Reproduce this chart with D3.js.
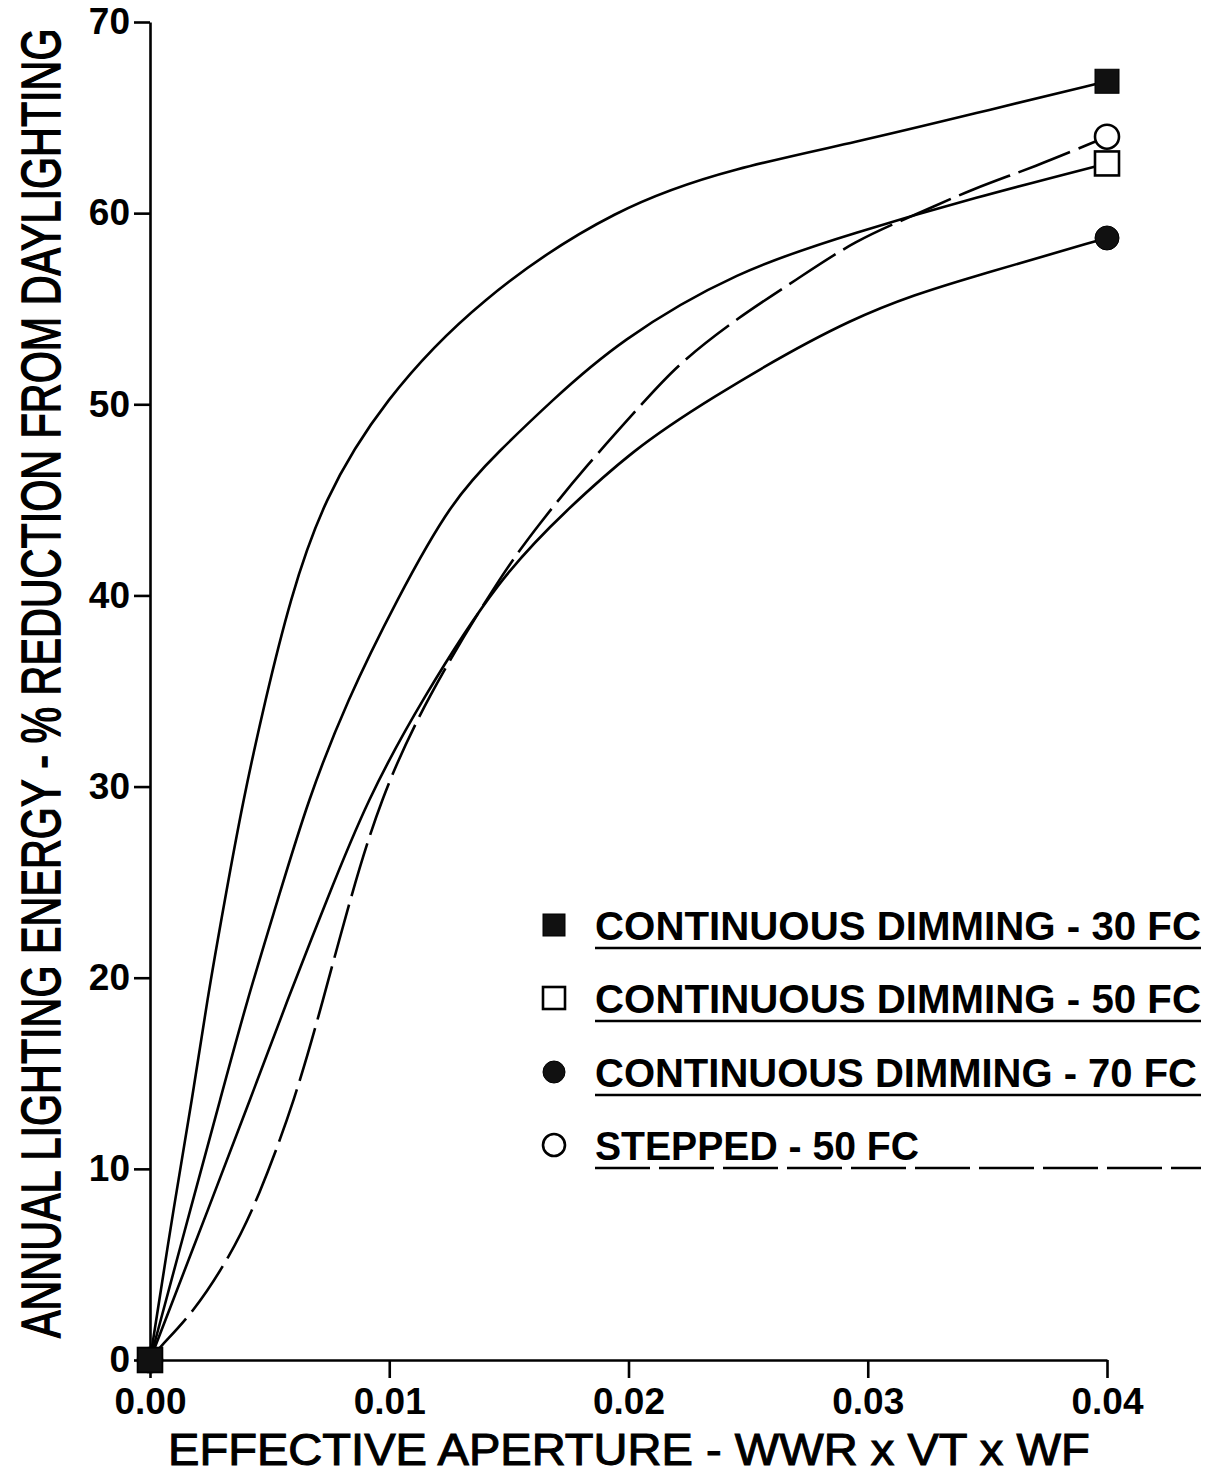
<!DOCTYPE html>
<html>
<head>
<meta charset="utf-8">
<script src="https://cdn.jsdelivr.net/npm/d3@7"></script>
<style>
  body { margin: 0; background: #fff; }
  svg { display: block; }
</style>
</head>
<body>
<div class="graph"></div>
<script>
// values
var xTicks = [0, 0.01, 0.02, 0.03, 0.04];
var yTicks = [0, 10, 20, 30, 40, 50, 60, 70];

var x30 = [0, 0.00104, 0.00176, 0.00238, 0.00313, 0.00389, 0.00481, 0.00585, 0.00723, 0.00974, 0.01371, 0.01956, 0.02453, 0.0295, 0.03443, 0.04];
var y30 = [0, 8.4, 13.6, 18.8, 24.1, 29.3, 34.5, 39.8, 45.0, 50.2, 55.5, 60.4, 62.4, 63.7, 65.2, 66.9];

var x50 = [0, 0.0018, 0.00293, 0.00405, 0.00535, 0.0066, 0.00823, 0.01032, 0.01262, 0.01463, 0.01672, 0.01956, 0.02453, 0.0295, 0.03443, 0.04];
var y50 = [0, 8.4, 13.6, 18.8, 24.1, 29.3, 34.5, 39.8, 45.0, 47.6, 50.1, 53.3, 57.0, 59.0, 60.8, 62.6];

var x70 = [0, 0.00259, 0.00418, 0.00573, 0.0074, 0.00907, 0.01133, 0.01463, 0.01743, 0.02019, 0.02299, 0.0295, 0.03443, 0.04];
var y70 = [0, 8.4, 13.6, 18.8, 24.1, 29.3, 34.5, 41.0, 44.5, 47.6, 50.0, 54.8, 56.7, 58.7];

var xStep = [0, 0.00042, 0.00176, 0.00334, 0.00451, 0.00606, 0.00723, 0.00836, 0.00961, 0.01149, 0.01463, 0.0163, 0.01818, 0.02069, 0.02207, 0.02453, 0.027, 0.0295, 0.03197, 0.03443, 0.03694, 0.04];
var yStep = [0, 0.7, 2.4, 5.4, 8.4, 13.6, 18.8, 24.1, 29.3, 34.5, 41.0, 43.8, 46.7, 50.2, 52.1, 54.5, 56.5, 58.6, 59.9, 61.3, 62.4, 64.0];

var legendLabels = ["CONTINUOUS DIMMING - 30 FC", "CONTINUOUS DIMMING - 50 FC", "CONTINUOUS DIMMING - 70 FC", "STEPPED - 50 FC"];

var w = 1211;
var h = 1475;

function zip(xs, ys) {
  return xs.map(function(d, i) { return [d, ys[i]]; });
}

// drawn bottom to top so the filled square sits on the origin
var series = [
  {name: legendLabels[3], pts: zip(xStep, yStep), dash: "55,9", marker: "circle", filled: false},
  {name: legendLabels[2], pts: zip(x70, y70), dash: null, marker: "circle", filled: true},
  {name: legendLabels[1], pts: zip(x50, y50), dash: null, marker: "square", filled: false},
  {name: legendLabels[0], pts: zip(x30, y30), dash: null, marker: "square", filled: true}
];

var svg = d3.select("div.graph")
  .append("svg")
  .attr("width", w)
  .attr("height", h);

svg.append("rect").attr("width", w).attr("height", h).attr("fill", "#fff");

var x = d3.scaleLinear().domain([0, 0.04]).range([150, 1107]);
var y = d3.scaleLinear().domain([0, 70]).range([1360, 22]);

var font = "'Liberation Sans', Arial, sans-serif";

// axes
var yAxis = svg.append("g")
  .attr("transform", "translate(150,0)")
  .call(d3.axisLeft(y).tickValues(yTicks).tickSize(16).tickSizeOuter(0).tickPadding(4).tickFormat(d3.format("d")));

var xAxis = svg.append("g")
  .attr("transform", "translate(0,1360)")
  .call(d3.axisBottom(x).tickValues(xTicks).tickSize(18).tickSizeOuter(0).tickPadding(10).tickFormat(d3.format(".2f")));

[yAxis, xAxis].forEach(function(a) {
  a.select(".domain").attr("stroke", "#000").attr("stroke-width", 2.6);
  a.selectAll(".tick line").attr("stroke", "#000").attr("stroke-width", 2.6);
  a.selectAll(".tick text")
    .attr("fill", "#000")
    .style("font-family", font)
    .style("font-weight", "bold")
    .style("font-size", "37px");
});

// curves
var line = d3.line()
  .x(function(d) { return x(d[0]); })
  .y(function(d) { return y(d[1]); })
  .curve(d3.curveBasis);

svg.selectAll("path.curve")
  .data(series)
  .enter()
  .append("path")
  .attr("class", "curve")
  .attr("d", function(d) { return line(d.pts); })
  .attr("fill", "none")
  .attr("stroke", "#000")
  .attr("stroke-width", 2.6)
  .attr("stroke-dasharray", function(d) { return d.dash; });

function drawMarker(g, s, cx, cy, size) {
  if (s.marker == "square") {
    g.append("rect")
      .attr("x", cx - size / 2)
      .attr("y", cy - size / 2)
      .attr("width", size)
      .attr("height", size)
      .attr("fill", s.filled ? "#111" : "#fff")
      .attr("stroke", "#000")
      .attr("stroke-width", s.filled ? 1 : 2.6);
  } else {
    g.append("circle")
      .attr("cx", cx)
      .attr("cy", cy)
      .attr("r", size / 2)
      .attr("fill", s.filled ? "#111" : "#fff")
      .attr("stroke", "#000")
      .attr("stroke-width", s.filled ? 1 : 2.6);
  }
}

// end markers (first and last point of each series)
var mk = svg.append("g");
series.forEach(function(s) {
  var first = s.pts[0];
  var last = s.pts[s.pts.length - 1];
  drawMarker(mk, s, x(first[0]), y(first[1]), 24);
  drawMarker(mk, s, x(last[0]), y(last[1]), 24);
});

// legend
var legend = svg.append("g");
var rowY = [925, 998, 1072, 1145];
var textLen = [606, 606, 602, 324];
legendLabels.forEach(function(lbl, i) {
  var s = series[3 - i];
  drawMarker(legend, s, 554, rowY[i], 22);
  legend.append("text")
    .attr("x", 595)
    .attr("y", rowY[i] + 15)
    .attr("textLength", textLen[i])
    .attr("lengthAdjust", "spacingAndGlyphs")
    .style("font-family", font)
    .style("font-weight", "bold")
    .style("font-size", "40px")
    .attr("fill", "#000")
    .text(lbl);
  legend.append("line")
    .attr("x1", 595)
    .attr("x2", 1201)
    .attr("y1", rowY[i] + 23)
    .attr("y2", rowY[i] + 23)
    .attr("stroke", "#000")
    .attr("stroke-width", 2.6)
    .attr("stroke-dasharray", s.dash);
});

// axis titles: font size is fitted to the wanted width, then stretched in height
function fitTitle(txt, len, baseSize, capScale, tf) {
  var t = svg.append("text")
    .style("font-family", font)
    .style("font-size", baseSize + "px")
    .attr("fill", "#000")
    .attr("stroke", "#000")
    .attr("stroke-width", 1.1)
    .text(txt);
  var natural = t.node().getComputedTextLength();
  var fs = baseSize * len / natural;
  t.style("font-size", fs + "px")
    .attr("transform", tf + " scale(1," + (capScale / fs) + ")");
  return t;
}

fitTitle("EFFECTIVE APERTURE - WWR x VT x WF", 922, 45, 45, "translate(168,1465)");
fitTitle("ANNUAL LIGHTING ENERGY - % REDUCTION FROM DAYLIGHTING", 1310, 45, 55, "translate(60,1338) rotate(-90)");
</script>
</body>
</html>
